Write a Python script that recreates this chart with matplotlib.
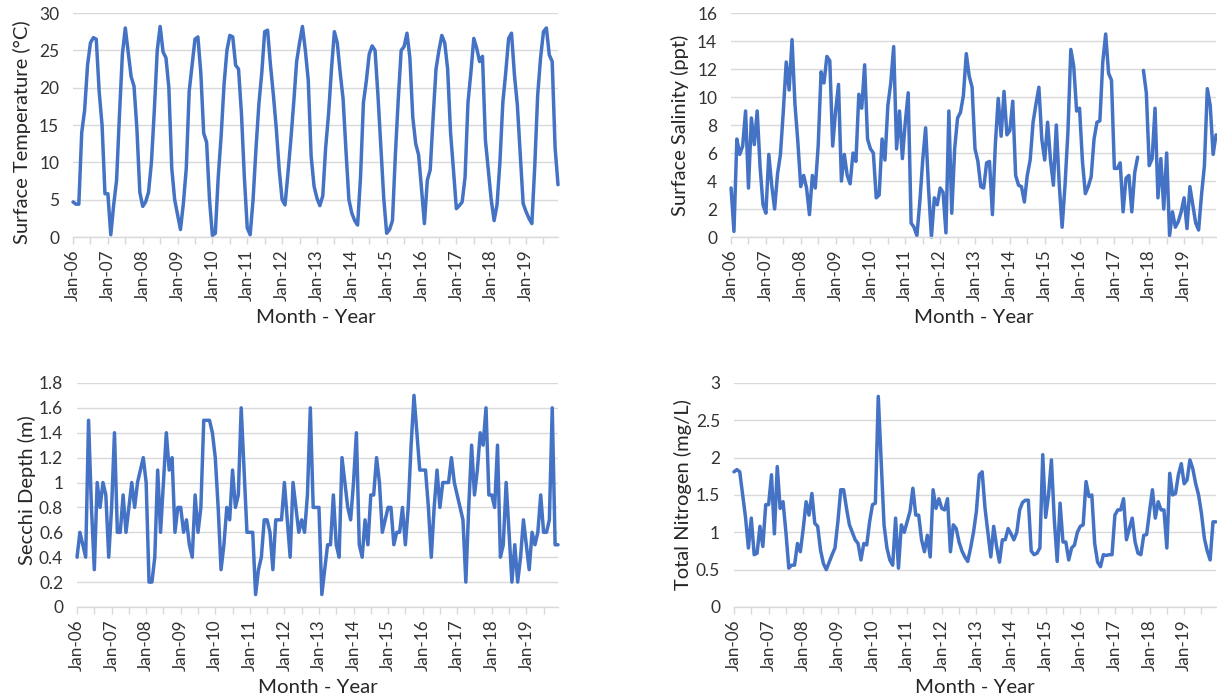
import numpy as np
import matplotlib
matplotlib.use("Agg")
import matplotlib.pyplot as plt
from matplotlib.ticker import FuncFormatter

plt.rcParams["font.family"] = ["Lato", "DejaVu Sans"]

# monthly values, Jan-06 .. Dec-19 (168 months)
temperature = [
    4.7, 4.4, 4.4, 14.0, 17.0, 23.0, 26.0, 26.7, 26.5, 19.5, 15.0, 5.8,
    5.8, 0.3, 4.3, 7.6, 16.4, 24.5, 28.0, 24.8, 21.5, 20.2, 14.5, 6.0,
    4.1, 4.7, 6.0, 10.0, 17.0, 25.0, 28.2, 24.8, 24.0, 20.0, 9.2, 5.0,
    3.0, 1.0, 4.5, 9.2, 19.5, 23.0, 26.5, 26.8, 22.0, 13.9, 12.7, 5.0,
    0.2, 0.5, 8.0, 13.5, 20.4, 25.0, 27.0, 26.8, 23.0, 22.5, 16.5, 8.0,
    1.2, 0.3, 5.0, 11.8, 17.8, 22.0, 27.5, 27.7, 23.0, 19.0, 14.5, 9.0,
    5.0, 4.3, 8.5, 13.0, 18.0, 23.5, 26.0, 28.2, 25.0, 21.0, 10.8, 6.8,
    5.2, 4.2, 5.5, 12.0, 16.5, 22.5, 27.5, 26.0, 22.0, 18.5, 11.5, 5.0,
    3.2, 2.2, 1.6, 8.0, 18.0, 20.9, 24.5, 25.6, 25.0, 19.0, 12.0, 5.2,
    0.5, 1.0, 2.2, 11.0, 18.5, 25.0, 25.5, 27.3, 24.0, 16.0, 12.5, 11.0,
    6.5, 1.8, 7.6, 9.0, 16.0, 22.5, 25.0, 27.0, 26.0, 22.5, 14.0, 9.0,
    3.8, 4.2, 4.7, 8.0, 18.0, 22.0, 26.6, 25.3, 23.5, 24.2, 13.0, 9.0,
    5.0, 2.2, 4.3, 10.0, 18.0, 22.0, 26.6, 27.3, 21.7, 17.7, 11.0, 4.5,
    3.4, 2.5, 1.8, 9.5, 19.0, 24.0, 27.5, 28.0, 24.4, 23.5, 12.0, 7.0,
]

salinity = [
    3.5, 0.4, 7.0, 5.9, 6.5, 9.0, 3.5, 8.5, 6.6, 9.0, 5.0, 2.3,
    1.7, 5.9, 3.7, 2.0, 4.5, 5.9, 9.0, 12.5, 10.5, 14.1, 9.5, 6.8,
    3.6, 4.4, 3.5, 1.6, 4.4, 3.5, 6.5, 11.8, 11.0, 12.9, 12.6, 6.5,
    9.0, 10.9, 4.0, 5.9, 4.4, 3.8, 6.0, 5.4, 10.2, 9.2, 12.3, 7.0,
    6.3, 6.0, 2.8, 3.0, 7.0, 5.5, 9.4, 11.0, 13.6, 6.3, 9.0, 5.6,
    8.2, 10.3, 1.0, 0.7, 0.1, 2.5, 5.5, 7.8, 3.5, 0.0, 2.8, 2.3,
    3.5, 3.2, 0.3, 9.0, 1.7, 6.3, 8.5, 8.9, 10.1, 13.1, 11.5, 10.7,
    6.3, 5.4, 3.6, 3.5, 5.3, 5.4, 1.6, 6.6, 9.9, 7.2, 10.4, 7.3,
    7.6, 9.7, 4.4, 3.7, 3.6, 2.5, 4.4, 5.5, 8.2, 9.5, 10.7, 7.0,
    5.5, 8.2, 5.5, 3.7, 8.0, 3.8, 0.7, 3.7, 7.5, 13.4, 12.2, 9.0,
    9.2, 5.4, 3.1, 3.6, 4.3, 7.0, 8.2, 8.3, 12.5, 14.5, 11.7, 11.2,
    4.9, 4.9, 5.3, 1.8, 4.2, 4.4, 1.8, 4.6, 5.7, np.nan, 11.9, 10.3,
    5.1, 5.6, 9.2, 2.8, 5.6, 2.0, 6.0, 0.1, 1.8, 0.7, 1.1, 1.8,
    2.8, 0.6, 3.6, 2.3, 1.0, 0.5, 3.0, 5.1, 10.6, 9.4, 5.9, 7.3,
]

secchi = [
    0.4, 0.6, 0.5, 0.4, 1.5, 0.8, 0.3, 1.0, 0.8, 1.0, 0.9, 0.4,
    0.8, 1.4, 0.6, 0.6, 0.9, 0.6, 0.8, 1.0, 0.8, 1.0, 1.1, 1.2,
    1.0, 0.2, 0.2, 0.4, 1.1, 0.6, 1.0, 1.4, 1.1, 1.2, 0.6, 0.8,
    0.8, 0.6, 0.7, 0.5, 0.4, 0.9, 0.6, 0.8, 1.5, 1.5, 1.5, 1.4,
    1.2, 0.8, 0.3, 0.5, 0.8, 0.7, 1.1, 0.8, 0.9, 1.6, 1.1, 0.6,
    0.6, 0.6, 0.1, 0.3, 0.4, 0.7, 0.7, 0.6, 0.3, 0.7, 0.7, 0.7,
    1.0, 0.7, 0.4, 1.0, 0.8, 0.6, 0.7, 0.6, 0.9, 1.6, 0.8, 0.8,
    0.8, 0.1, 0.3, 0.5, 0.5, 0.9, 0.5, 0.4, 1.2, 1.0, 0.8, 0.7,
    1.0, 1.4, 0.5, 0.4, 0.7, 0.5, 0.9, 0.9, 1.2, 1.0, 0.6, 0.7,
    0.8, 0.8, 0.5, 0.6, 0.6, 0.8, 0.5, 0.8, 1.3, 1.7, 1.4, 1.1,
    1.1, 1.1, 0.8, 0.4, 0.8, 1.1, 0.8, 1.0, 1.0, 1.0, 1.2, 1.0,
    0.9, 0.8, 0.7, 0.2, 0.8, 1.3, 0.9, 1.1, 1.4, 1.3, 1.6, 0.9,
    0.9, 0.8, 1.3, 0.4, 0.5, 1.0, 0.6, 0.2, 0.5, 0.2, 0.4, 0.7,
    0.5, 0.3, 0.6, 0.5, 0.6, 0.9, 0.6, 0.6, 0.7, 1.6, 0.5, 0.5,
]

nitrogen = [
    1.81, 1.84, 1.81, 1.50, 1.20, 0.79, 1.19, 0.70, 0.72, 1.08, 0.81, 1.37,
    1.37, 1.77, 0.98, 1.88, 1.32, 1.41, 1.00, 0.52, 0.56, 0.56, 0.85, 0.74,
    1.05, 1.41, 1.23, 1.52, 1.12, 1.08, 0.76, 0.58, 0.50, 0.60, 0.70, 0.79,
    1.14, 1.57, 1.57, 1.32, 1.10, 1.00, 0.90, 0.85, 0.63, 0.85, 0.83, 1.14,
    1.37, 1.39, 2.82, 1.95, 1.10, 0.79, 0.63, 0.56, 1.19, 0.52, 1.10, 1.00,
    1.14, 1.28, 1.59, 1.23, 1.23, 0.90, 0.74, 0.96, 0.67, 1.57, 1.32, 1.45,
    1.32, 1.30, 1.45, 0.74, 1.10, 1.05, 0.87, 0.75, 0.67, 0.61, 0.79, 1.00,
    1.28, 1.77, 1.81, 1.32, 1.00, 0.67, 1.08, 0.81, 0.60, 0.90, 0.90, 1.05,
    0.98, 0.90, 1.00, 1.30, 1.40, 1.43, 1.43, 0.75, 0.70, 0.72, 0.79, 2.04,
    1.20, 1.50, 1.97, 1.17, 0.61, 1.39, 0.87, 0.87, 0.63, 0.79, 0.83, 1.00,
    1.08, 1.10, 1.68, 1.48, 1.50, 0.85, 0.60, 0.54, 0.70, 0.69, 0.70, 0.70,
    1.23, 1.30, 1.30, 1.45, 0.90, 1.05, 1.19, 0.87, 0.72, 0.70, 0.96, 0.97,
    1.28, 1.57, 1.19, 1.41, 1.30, 1.30, 0.79, 1.79, 1.50, 1.52, 1.77, 1.92,
    1.65, 1.70, 1.97, 1.85, 1.65, 1.50, 1.25, 0.92, 0.75, 0.63, 1.14, 1.14,
]

years = list(range(2006, 2020))
jan_labels = ["Jan-%02d" % (y % 100) for y in years]

months = np.arange(len(temperature))
line_color = "#4472C4"
grid_color = "#d9d9d9"
text_color = "#333333"

fig = plt.figure(figsize=(12.17, 7), dpi=100)

# [left, bottom, width, height] in figure fraction
panels = [
    (temperature, [0.060, 0.6614, 0.3985, 0.32], 30, 5, "Surface Temperature (°C)", 0.47),
    (salinity, [0.6007, 0.6614, 0.3985, 0.32], 16, 2, "Surface Salinity (ppt)", 0.50),
    (secchi, [0.0633, 0.1329, 0.3952, 0.32], 1.8, 0.2, "Secchi Depth (m)", 0.52),
    (nitrogen, [0.6031, 0.1329, 0.3960, 0.32], 3, 0.5, "Total Nitrogen (mg/L)", 0.50),
]

for values, rect, ymax, ystep, ylabel, ylab_y in panels:
    ax = fig.add_axes(rect)
    ax.plot(months, np.array(values, dtype=float), color=line_color, lw=2.5,
            solid_joinstyle="round", solid_capstyle="round", clip_on=False)
    ax.set_xlim(0, len(months) - 1)
    ax.set_ylim(0, ymax)
    ax.set_yticks(np.round(np.arange(0, ymax + ystep / 2, ystep), 2))
    ax.yaxis.set_major_formatter(FuncFormatter(lambda v, p: "%g" % v))
    ax.yaxis.grid(True, color=grid_color, lw=1.0)
    ax.set_axisbelow(True)
    for s in ["top", "right", "left"]:
        ax.spines[s].set_visible(False)
    ax.spines["bottom"].set_color(grid_color)
    ax.spines["bottom"].set_linewidth(1.0)

    ticks = list(range(0, len(months), 6))
    ax.set_xticks(ticks)
    ax.set_xticklabels([jan_labels[t // 12] if t % 12 == 0 else "" for t in ticks])
    ax.tick_params(axis="x", direction="out", length=5, width=1.0, color=grid_color,
                   labelrotation=90, labelsize=12.3, labelcolor=text_color, pad=4)
    ax.tick_params(axis="y", length=0, labelsize=12.5, labelcolor=text_color, pad=10)

    ax.text(-0.105, ylab_y, ylabel, transform=ax.transAxes, rotation=90,
            ha="center", va="center", fontsize=14.5, color="#262626")
    ax.text(0.5, -0.36, "Month - Year", transform=ax.transAxes,
            ha="center", va="center", fontsize=14.7, color="#262626")

fig.savefig("out.png", dpi=100)
